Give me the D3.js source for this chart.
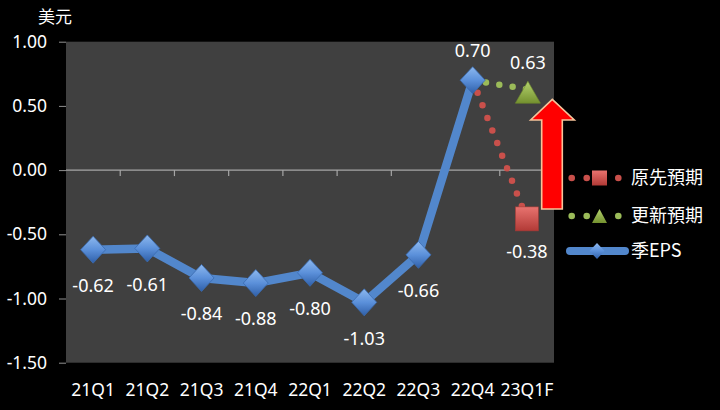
<!DOCTYPE html>
<html><head><meta charset="utf-8">
<script src="https://cdn.jsdelivr.net/npm/d3@7"></script>
<style>
html,body{margin:0;padding:0;background:#000;}
svg{display:block;}
text{font-family:"Noto Sans",sans-serif;fill:#fff;}
.cjk{font-family:"Noto Sans CJK TC","Noto Sans CJK SC",sans-serif;}
</style></head>
<body>
<svg id="c" width="720" height="410"></svg>
<script>
const categories = ["21Q1","21Q2","21Q3","21Q4","22Q1","22Q2","22Q3","22Q4","23Q1F"];
const epsValues = [-0.62,-0.61,-0.84,-0.88,-0.80,-1.03,-0.66,0.70];
const originalForecast = [{cat:"22Q4",v:0.70},{cat:"23Q1F",v:-0.38}];
const updatedForecast = [{cat:"22Q4",v:0.70},{cat:"23Q1F",v:0.63}];
const yTicks = [1.00,0.50,0.00,-0.50,-1.00,-1.50];
const legendLabels = ["原先預期","更新預期","季EPS"];
const yTitle = "美元";

const fmt = v => d3.format(".2f")(v).replace("\u2212","-");

const svg = d3.select("#c");
const L = 66, R = 554, T = 41.7, B = 362.7;
const x = d3.scaleBand().domain(categories).range([L,R]);
const cx = c => x(c) + x.bandwidth()/2;
const y = d3.scaleLinear().domain([-1.5,1.0]).range([B,T]);

const defs = svg.append("defs");
const gb = defs.append("linearGradient").attr("id","gblue").attr("x1",0).attr("y1",0).attr("x2",0).attr("y2",1);
gb.append("stop").attr("offset","0%").attr("stop-color","#8db8ee");
gb.append("stop").attr("offset","50%").attr("stop-color","#5b90da");
gb.append("stop").attr("offset","100%").attr("stop-color","#2f5fa8");
const gr = defs.append("linearGradient").attr("id","gred").attr("x1",0).attr("y1",0).attr("x2",0).attr("y2",1);
gr.append("stop").attr("offset","0%").attr("stop-color","#e8736f");
gr.append("stop").attr("offset","100%").attr("stop-color","#b23a36");
const gg = defs.append("linearGradient").attr("id","ggreen").attr("x1",0).attr("y1",0).attr("x2",0).attr("y2",1);
gg.append("stop").attr("offset","0%").attr("stop-color","#b5d36e");
gg.append("stop").attr("offset","100%").attr("stop-color","#74912f");

// custom diamond symbol (w x h box)
const diamondType = (w,h) => ({draw(ctx){ ctx.moveTo(0,-h/2); ctx.lineTo(w/2,0); ctx.lineTo(0,h/2); ctx.lineTo(-w/2,0); ctx.closePath(); }});
const triType = (w,h) => ({draw(ctx){ ctx.moveTo(0,-h/2); ctx.lineTo(w/2,h/2); ctx.lineTo(-w/2,h/2); ctx.closePath(); }});

// plot area
svg.append("rect").attr("x",L).attr("y",T).attr("width",R-L).attr("height",B-T).attr("fill","#404040");

// y axis
const yAxis = d3.axisLeft(y).tickValues(yTicks).tickFormat(fmt).tickSize(7).tickPadding(12);
const ya = svg.append("g").attr("transform",`translate(${L},0)`).call(yAxis);
ya.select(".domain").remove();
ya.selectAll("line").attr("stroke","#909090");
ya.selectAll("text").style("font-size","17.5px").attr("fill","#fff");

// zero line with category boundary ticks
svg.append("line").attr("x1",L).attr("x2",R).attr("y1",y(0)).attr("y2",y(0)).attr("stroke","#a6a6a6").attr("stroke-width",1.2);
svg.append("g").selectAll("line").data(categories.slice(1)).join("line")
  .attr("x1",d=>x(d)).attr("x2",d=>x(d)).attr("y1",y(0)).attr("y2",y(0)+6)
  .attr("stroke","#a6a6a6").attr("stroke-width",1.2);

// x labels
const xAxis = d3.axisBottom(x).tickSize(0).tickPadding(0);
const xa = svg.append("g").attr("transform",`translate(0,${B+27})`).call(xAxis);
xa.select(".domain").remove();
xa.selectAll("text").style("font-size","17.5px").attr("fill","#fff").attr("dy","0.35em");

// y title
svg.append("text").attr("class","cjk").attr("x",38).attr("y",23).style("font-size","17px").text(yTitle);

// forecast dotted lines
const lineF = d3.line().x(d=>cx(d.cat)).y(d=>y(d.v));
svg.append("path").datum(originalForecast).attr("d",lineF).attr("fill","none")
  .attr("stroke","#c9504b").attr("stroke-width",6.5).attr("stroke-linecap","round").attr("stroke-dasharray","0,13.5");
svg.append("path").datum(updatedForecast).attr("d",lineF).attr("fill","none")
  .attr("stroke","#9bbb59").attr("stroke-width",6.5).attr("stroke-linecap","round").attr("stroke-dasharray","0,13.5");

// EPS line
const epsData = epsValues.map((v,i)=>({cat:categories[i],v}));
svg.append("path").datum(epsData).attr("d",lineF).attr("fill","none")
  .attr("stroke","#5287cc").attr("stroke-width",8.5).attr("stroke-linejoin","round");

svg.append("g").selectAll("path").data(epsData).join("path")
  .attr("transform",d=>`translate(${cx(d.cat)},${y(d.v)})`)
  .attr("d",d3.symbol().type(diamondType(25,27))).attr("fill","url(#gblue)").attr("stroke","#3a6bb0").attr("stroke-width",0.8);

// forecast markers
const oEnd = originalForecast[1], uEnd = updatedForecast[1];
svg.append("rect").attr("x",cx(oEnd.cat)-11.5).attr("y",y(oEnd.v)-12).attr("width",23).attr("height",24)
  .attr("fill","url(#gred)").attr("stroke","#a33a36").attr("stroke-width",0.6);
svg.append("path").attr("transform",`translate(${cx(uEnd.cat)+1},${y(uEnd.v)+3})`)
  .attr("d",d3.symbol().type(triType(25,22))).attr("fill","url(#ggreen)").attr("stroke","#6f8c2c").attr("stroke-width",0.6);

// data labels
const lbl = svg.append("g").style("font-size","18px");
epsData.forEach((d,i)=>{
  const above = d.v > 0;
  lbl.append("text").attr("x",cx(d.cat)).attr("y",y(d.v)+(above?-30:36)).attr("dy","0.35em")
    .attr("text-anchor","middle").text(fmt(d.v));
});
lbl.append("text").attr("x",cx(uEnd.cat)+1).attr("y",y(uEnd.v)-27).attr("dy","0.35em").attr("text-anchor","middle").text(fmt(uEnd.v));
lbl.append("text").attr("x",cx(oEnd.cat)).attr("y",y(oEnd.v)+33).attr("dy","0.35em").attr("text-anchor","middle").text(fmt(oEnd.v));

// red arrow (annotation)
const arrowPts = [[552.3,99.3],[574.3,120],[562.3,120],[562.3,209],[541.7,209],[541.7,120],[530.7,120]];
svg.append("path").attr("d",d3.line()(arrowPts)+"Z").attr("fill","#ff0000").attr("stroke","#f6c49a").attr("stroke-width",1.6).attr("stroke-linejoin","miter");

// legend
const lg = svg.append("g");
const legY = [178,216,251];
[571.7,586.7,618.3].forEach(px=>lg.append("circle").attr("cx",px).attr("cy",legY[0]).attr("r",3.3).attr("fill","#c9504b"));
lg.append("rect").attr("x",592).attr("y",legY[0]-7.5).attr("width",15).attr("height",15).attr("fill","url(#gred)");
[571.7,586.7,618.3].forEach(px=>lg.append("circle").attr("cx",px).attr("cy",legY[1]).attr("r",3.3).attr("fill","#9bbb59"));
lg.append("path").attr("transform",`translate(599.5,${legY[1]})`).attr("d",d3.symbol().type(triType(15,14))).attr("fill","url(#ggreen)");
lg.append("line").attr("x1",570).attr("x2",625).attr("y1",legY[2]).attr("y2",legY[2]).attr("stroke","#5287cc").attr("stroke-width",8).attr("stroke-linecap","round");
lg.append("path").attr("transform",`translate(597,${legY[2]})`).attr("d",d3.symbol().type(diamondType(15,16))).attr("fill","url(#gblue)");
legendLabels.forEach((t,i)=>{
  lg.append("text").attr("class","cjk").attr("x",631).attr("y",legY[i]).attr("dy","0.35em")
    .style("font-size","18px").text(t);
});
</script>
</body></html>
